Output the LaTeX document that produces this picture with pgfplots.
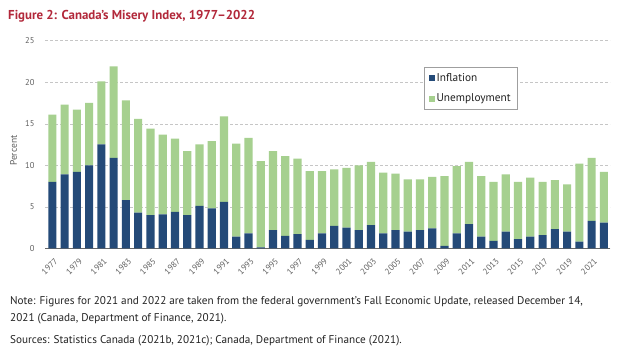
\documentclass[border=0pt]{standalone}
\usepackage{pgfplots}
\usepackage{pgfplotstable}
\pgfplotsset{compat=1.18}
\usepackage{fontspec}
\setmainfont{PT Sans}
\definecolor{infl}{RGB}{36,74,120}
\definecolor{unemp}{RGB}{166,208,143}
\definecolor{titlered}{RGB}{178,40,58}
\definecolor{txt}{RGB}{35,35,35}
\definecolor{tickc}{RGB}{95,95,95}

\pgfplotstableread{
year infl unemp
1977 8.0 8.1
1978 8.9 8.4
1979 9.2 7.5
1980 10.0 7.5
1981 12.5 7.6
1982 10.9 11.0
1983 5.8 12.0
1984 4.3 11.3
1985 4.0 10.4
1986 4.1 9.6
1987 4.4 8.8
1988 4.0 7.7
1989 5.1 7.4
1990 4.8 8.1
1991 5.6 10.3
1992 1.4 11.2
1993 1.8 11.5
1994 0.1 10.4
1995 2.2 9.5
1996 1.5 9.6
1997 1.7 9.1
1998 1.0 8.3
1999 1.8 7.5
2000 2.7 6.8
2001 2.5 7.2
2002 2.2 7.8
2003 2.8 7.6
2004 1.8 7.3
2005 2.2 6.8
2006 2.0 6.3
2007 2.2 6.1
2008 2.4 6.2
2009 0.3 8.4
2010 1.8 8.1
2011 2.9 7.5
2012 1.4 7.3
2013 0.9 7.1
2014 2.0 6.9
2015 1.1 6.9
2016 1.4 7.1
2017 1.6 6.4
2018 2.3 5.9
2019 2.0 5.7
2020 0.8 9.4
2021 3.3 7.6
2022 3.1 6.1
}\data

\begin{document}
\begin{tikzpicture}
\useasboundingbox (0pt,0pt) rectangle (618pt,351pt);
\fill[white] (0pt,0pt) rectangle (618pt,351pt);
\node[anchor=base west, inner sep=0, font=\fontsize{12.9}{15}\selectfont\bfseries, text=titlered] at (8pt,331pt) {Figure 2: Canada’s Misery Index, 1977–2022};
\begin{axis}[
  at={(45pt,102.7pt)}, anchor=south west, scale only axis,
  width=565pt, height=207.6pt,
  xmin=1976.4, xmax=2022.5, ymin=0, ymax=25,
  ybar stacked, bar width=8.2pt,
  ytick={0,5,...,25}, xtick={1977,1979,...,2021},
  axis line style={draw=none}, major tick length=0pt,
  ymajorgrids, grid style={densely dashed, gray!45, line width=0.4pt},
  /pgf/number format/1000 sep={},
  /pgf/number format/assume math mode=true,
  yticklabel style={font=\fontsize{8.5}{10}\selectfont, text=tickc, xshift=-7pt},
  xticklabel style={font=\fontsize{8.5}{10}\selectfont, text=tickc, rotate=45, anchor=east, xshift=-2pt, yshift=-11pt},
  legend style={at={(0.671,0.872)}, anchor=north west, draw=gray!75, fill=white,
    font=\fontsize{11.3}{12}\selectfont, text=txt, inner xsep=4.5pt, inner ysep=4pt, row sep=7pt},
  legend cell align=left,
  legend image code/.code={\fill[#1] (0pt,-2.9pt) rectangle (5.8pt,2.9pt);},
]
\addplot[fill=infl, draw=none] table[x=year,y=infl]{\data};
\addplot[fill=unemp, draw=none] table[x=year,y=unemp]{\data};
\legend{Inflation, Unemployment}
\draw[gray!80!black, line width=0.6pt] (rel axis cs:0,0) -- (rel axis cs:1,0);
\end{axis}
\node[rotate=90, font=\fontsize{9.5}{11}\selectfont, text=tickc] at (13.5pt,200.3pt) {Percent};
\begin{scope}[every node/.style={anchor=base west, inner sep=0, font=\fontsize{11.2}{13}\selectfont, text=txt}]
\node at (10pt,47pt) {Note: Figures for 2021 and 2022 are taken from the federal government’s Fall Economic Update, released December 14,};
\node at (10pt,30pt) {2021 (Canada, Department of Finance, 2021).};
\node at (10pt,8pt) {Sources: Statistics Canada (2021b, 2021c); Canada, Department of Finance (2021).};
\end{scope}
\end{tikzpicture}
\end{document}
